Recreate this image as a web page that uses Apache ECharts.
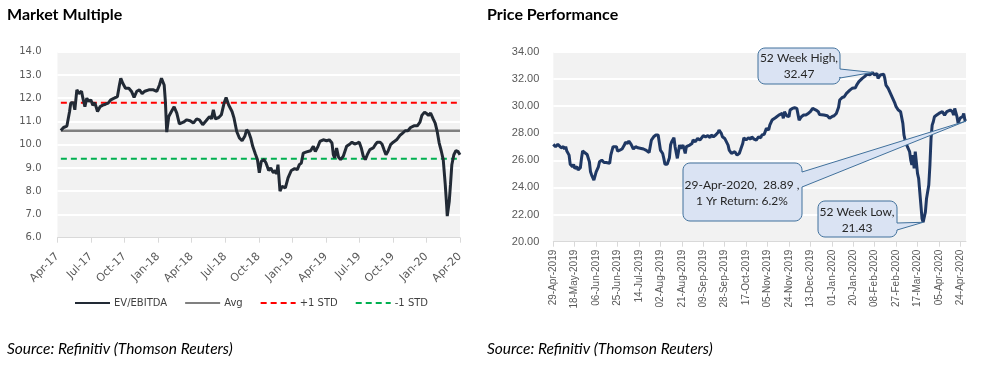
<!DOCTYPE html>
<html><head><meta charset="utf-8">
<script src="https://cdn.jsdelivr.net/npm/echarts@6/dist/echarts.min.js"></script>
<style>html,body{margin:0;padding:0;background:#fff}#c{width:1002px;height:368px}</style>
</head><body><div id="c"></div>
<script>
// ---------- Market Multiple (EV/EBITDA) ----------
// x = months since Apr-2017
const multipleTickLabels = ['Apr-17','Jul-17','Oct-17','Jan-18','Apr-18','Jul-18','Oct-18','Jan-19','Apr-19','Jul-19','Oct-19','Jan-20','Apr-20'];
const evEbitda = [[0.30,10.61],[0.54,10.74],[0.84,10.80],[1.08,11.43],[1.19,11.80],[1.43,11.80],[1.55,11.50],[1.73,12.36],[1.91,12.20],[2.15,12.30],[2.27,12.00],[2.45,11.64],[2.62,12.00],[2.80,11.86],[2.98,11.93],[3.16,11.70],[3.34,11.80],[3.58,11.43],[3.82,11.64],[4.05,11.70],[4.29,11.74],[4.53,11.79],[4.77,11.93],[5.07,12.00],[5.36,12.07],[5.54,12.57],[5.66,12.86],[5.84,12.64],[6.08,12.43],[6.38,12.43],[6.62,12.29],[6.85,12.03],[7.09,12.30],[7.33,12.36],[7.57,12.20],[7.81,12.30],[8.17,12.36],[8.58,12.36],[8.88,12.29],[9.12,12.57],[9.30,12.86],[9.54,12.57],[9.65,11.86],[9.77,10.54],[9.95,11.21],[10.19,11.43],[10.43,11.63],[10.67,11.36],[10.90,10.90],[11.26,10.97],[11.56,11.07],[11.86,11.03],[12.15,10.93],[12.45,11.11],[12.69,11.07],[12.99,10.86],[13.29,11.03],[13.59,11.21],[13.77,11.11],[13.94,11.50],[14.12,11.11],[14.42,11.17],[14.66,11.29],[14.90,11.79],[15.08,12.03],[15.31,11.71],[15.61,11.43],[15.79,11.14],[16.03,10.57],[16.27,10.29],[16.51,10.17],[16.75,10.36],[16.92,10.64],[17.10,10.54],[17.28,10.29],[17.46,9.93],[17.70,9.60],[17.88,9.36],[18.05,8.79],[18.23,9.29],[18.47,9.36],[18.65,9.21],[18.89,8.89],[19.07,9.00],[19.31,8.79],[19.48,8.89],[19.60,8.74],[19.72,9.14],[19.90,8.00],[20.08,8.21],[20.38,8.14],[20.62,8.57],[20.91,8.89],[21.21,8.97],[21.45,8.93],[21.63,9.14],[21.81,9.21],[21.98,9.64],[22.28,9.69],[22.64,9.74],[22.88,9.93],[23.06,9.71],[23.30,9.93],[23.47,10.14],[23.77,10.21],[24.07,10.17],[24.31,10.21],[24.55,10.07],[24.67,9.57],[24.79,9.43],[24.96,9.86],[25.14,9.46],[25.32,9.36],[25.56,9.50],[25.86,9.93],[26.16,10.03],[26.34,10.11],[26.58,10.03],[26.81,10.07],[26.99,10.11],[27.17,9.86],[27.35,9.50],[27.53,9.36],[27.71,9.57],[27.94,9.79],[28.24,9.86],[28.42,10.00],[28.60,10.11],[28.84,10.11],[29.02,10.03],[29.20,9.79],[29.38,9.57],[29.55,9.71],[29.79,10.00],[30.03,10.11],[30.33,10.21],[30.63,10.40],[30.87,10.50],[31.10,10.60],[31.34,10.60],[31.58,10.74],[31.88,10.81],[32.18,10.81],[32.42,10.97],[32.59,11.26],[32.83,11.40],[33.01,11.34],[33.19,11.26],[33.37,11.36],[33.60,11.11],[33.78,10.93],[33.96,10.57],[34.14,10.07],[34.32,9.74],[34.50,9.36],[34.68,8.29],[34.80,7.43],[34.86,6.93],[35.04,7.57],[35.15,8.29],[35.27,9.14],[35.45,9.57],[35.63,9.74],[35.81,9.71],[35.92,9.64],[36.00,9.57]];
const avgValue = 10.6;
const plusStd = 11.8;
const minusStd = 9.4;
const refLineSpan = [0.30, 36.00];

// ---------- Price Performance ----------
// x = calendar days since 29-Apr-2019
const priceStart = '2019-04-29';
const priceDays = 367;
const price = [[0,27.17],[2,27.00],[4,27.17],[5,27.07],[7,26.92],[9,27.00],[10,26.83],[11,27.00],[12,26.68],[14,26.38],[15,25.70],[17,25.52],[18,25.70],[19,25.40],[21,25.52],[22,25.28],[24,25.45],[25,26.14],[26,26.68],[27,26.63],[30,26.43],[31,26.38],[32,25.89],[33,25.15],[34,24.91],[36,24.54],[37,24.66],[38,25.15],[40,25.52],[41,25.89],[43,26.01],[45,25.84],[47,25.84],[50,25.77],[51,26.38],[53,27.00],[54,27.00],[56,27.00],[57,26.68],[59,26.75],[61,26.83],[63,27.12],[64,27.32],[66,27.24],[67,27.42],[69,27.17],[71,26.83],[73,27.00],[75,26.92],[76,26.87],[78,26.87],[80,26.83],[82,26.75],[83,26.83],[85,26.58],[87,27.49],[89,27.73],[91,27.86],[93,27.86],[94,27.81],[95,26.75],[97,26.50],[98,26.14],[99,25.70],[101,25.70],[102,25.84],[103,26.19],[104,27.12],[105,27.37],[107,27.66],[108,27.00],[110,26.14],[111,26.63],[112,27.12],[113,26.87],[115,27.12],[117,26.50],[118,27.00],[119,26.87],[121,27.12],[123,27.24],[124,27.49],[126,27.37],[128,27.61],[130,27.49],[131,27.56],[133,27.81],[135,27.73],[137,27.81],[139,27.66],[140,27.86],[142,27.73],[144,27.86],[146,28.05],[147,28.23],[149,27.98],[150,27.73],[152,27.61],[153,27.49],[155,27.12],[156,26.75],[158,26.51],[159,26.38],[161,26.63],[163,26.38],[165,26.51],[166,26.75],[168,27.24],[169,27.66],[171,27.49],[173,27.66],[175,27.56],[176,27.73],[178,27.56],[180,27.49],[182,27.73],[184,27.66],[185,27.86],[187,27.91],[188,27.98],[189,28.35],[191,28.23],[192,28.59],[194,28.96],[195,29.09],[197,29.13],[198,29.21],[200,29.33],[201,29.28],[203,29.45],[204,29.09],[205,29.58],[207,29.28],[208,29.33],[209,29.21],[210,29.70],[212,29.82],[214,29.87],[216,29.82],[217,29.77],[218,28.96],[219,28.84],[220,29.21],[222,29.33],[224,29.33],[226,29.45],[228,29.58],[230,29.82],[231,29.87],[233,29.70],[235,29.58],[236,29.38],[240,29.33],[243,29.28],[245,29.09],[246,28.96],[247,29.21],[249,29.28],[251,29.45],[253,29.90],[254,30.44],[255,30.32],[256,30.61],[258,30.68],[260,30.93],[261,30.86],[263,31.17],[265,31.30],[266,31.42],[268,31.35],[269,31.54],[271,31.79],[272,31.91],[274,32.03],[276,32.16],[278,32.33],[279,32.40],[281,32.30],[283,32.47],[285,32.28],[287,32.40],[288,32.03],[290,32.28],[291,32.40],[293,32.35],[294,32.03],[295,31.54],[297,31.30],[299,30.93],[301,30.56],[303,30.19],[304,29.95],[306,29.70],[308,29.58],[310,28.72],[311,27.86],[312,27.49],[314,27.00],[316,26.63],[317,26.01],[318,25.65],[319,26.38],[320,25.40],[321,26.63],[323,25.03],[324,24.66],[325,23.68],[326,22.70],[327,21.71],[328,21.43],[330,22.20],[331,23.19],[332,23.68],[333,24.17],[334,25.65],[335,27.61],[336,28.59],[337,28.84],[338,29.21],[340,29.33],[342,29.45],[343,29.33],[345,29.58],[347,29.33],[349,29.58],[350,29.45],[352,29.70],[354,29.58],[355,29.33],[356,29.82],[358,29.21],[359,28.72],[360,28.96],[361,29.13],[363,29.21],[364,29.45],[365,28.96],[366,28.89]];
const highPoint = [283, 32.47];
const lowPoint = [328, 21.43];
const lastPoint = [366, 28.89];
const highText = '52 Week High,\n32.47';
const lowText = '52 Week Low,\n21.43';
const returnText = '29-Apr-2020,  28.89 ,\n1 Yr Return: 6.2%';

const MONTHS = ['Jan','Feb','Mar','Apr','May','Jun','Jul','Aug','Sep','Oct','Nov','Dec'];
const priceDates = [];
(function(){
  const d0 = new Date(priceStart + 'T00:00:00Z');
  for (let i = 0; i < priceDays; i++) {
    const d = new Date(d0.getTime() + i * 86400000);
    priceDates.push(String(d.getUTCDate()).padStart(2,'0') + '-' + MONTHS[d.getUTCMonth()] + '-' + d.getUTCFullYear());
  }
})();

const axisFont = 'DejaVu Sans';
const labelColor = '#595959';
const chart = echarts.init(document.getElementById('c'), null, {renderer: 'canvas'});

const titleStyle = {fontFamily: 'Lato', fontWeight: 'bold', fontSize: 16, color: '#000'};
const sourceStyle = {fontFamily: 'Lato', fontStyle: 'italic', fontWeight: 'normal', fontSize: 15.5, color: '#000'};
const option = {
  animation: false,
  backgroundColor: '#ffffff',
  title: [
    {text: 'Market Multiple', left: 7, top: 7, padding: 0, textStyle: titleStyle},
    {text: 'Price Performance', left: 487, top: 7, padding: 0, textStyle: titleStyle},
    {text: 'Source: Refinitiv (Thomson Reuters)', left: 7, top: 341, padding: 0, textStyle: sourceStyle},
    {text: 'Source: Refinitiv (Thomson Reuters)', left: 487, top: 341, padding: 0, textStyle: sourceStyle}
  ],
  legend: {
    left: 74, top: 298, padding: 0, itemWidth: 35, itemHeight: 10, itemGap: 17,
    itemStyle: {opacity: 0},
    textStyle: {fontFamily: axisFont, fontSize: 10, color: '#404040', padding: [0, 0, 0, -1]},
    data: ['EV/EBITDA','Avg','+1 STD','-1 STD']
  },
  grid: [
    {left: 57.5, right: 542, top: 51.7, bottom: 130.3, show: true, backgroundColor: '#F2F2F2', borderWidth: 0, containLabel: false},
    {left: 553.3, right: 36, top: 51.7, bottom: 126.3, show: true, backgroundColor: '#F2F2F2', borderWidth: 0, containLabel: false}
  ],
  xAxis: [
    {gridIndex: 0, type: 'value', min: 0, max: 36, interval: 3,
     axisLine: {show: true, lineStyle: {color: '#D9D9D9', width: 1}},
     axisTick: {show: true, length: 5, lineStyle: {color: '#D9D9D9'}},
     splitLine: {show: false},
     axisLabel: {rotate: 45, margin: 17, fontFamily: axisFont, fontSize: 11, color: labelColor,
       formatter: v => multipleTickLabels[Math.round(v / 3)] || ''}},
    {gridIndex: 1, type: 'category', data: priceDates, boundaryGap: false,
     axisLine: {show: true, lineStyle: {color: '#D9D9D9', width: 1}},
     axisTick: {show: true, interval: 18, length: 5, lineStyle: {color: '#D9D9D9'}},
     splitLine: {show: false},
     axisLabel: {rotate: 90, interval: 18, margin: 8, fontFamily: 'Liberation Sans', fontSize: 10, color: labelColor}}
  ],
  yAxis: [
    {gridIndex: 0, type: 'value', min: 6, max: 14, interval: 1,
     axisLine: {show: false}, axisTick: {show: false},
     splitLine: {show: true, lineStyle: {color: '#FFFFFF', width: 2}},
     axisLabel: {margin: 16, fontFamily: axisFont, fontSize: 10, color: labelColor, formatter: v => v.toFixed(1)}},
    {gridIndex: 1, type: 'value', min: 20, max: 34, interval: 2,
     axisLine: {show: false}, axisTick: {show: false},
     splitLine: {show: true, lineStyle: {color: '#FFFFFF', width: 2}},
     axisLabel: {margin: 14, fontFamily: 'Liberation Sans', fontSize: 11, color: labelColor, formatter: v => v.toFixed(2)}}
  ],
  series: [
    {name: 'EV/EBITDA', type: 'line', xAxisIndex: 0, yAxisIndex: 0, data: evEbitda, symbol: 'none', z: 5,
     color: '#222A35', lineStyle: {color: '#222A35', width: 3}},
    {name: 'Avg', type: 'line', xAxisIndex: 0, yAxisIndex: 0, symbol: 'none', z: 3,
     data: refLineSpan.map(x => [x, avgValue]), color: '#808080', lineStyle: {color: '#808080', width: 2.5}},
    {name: '+1 STD', type: 'line', xAxisIndex: 0, yAxisIndex: 0, symbol: 'none', z: 3,
     data: refLineSpan.map(x => [x, plusStd]), color: '#FF0000', lineStyle: {color: '#FF0000', width: 2, type: [6, 4]}},
    {name: '-1 STD', type: 'line', xAxisIndex: 0, yAxisIndex: 0, symbol: 'none', z: 3,
     data: refLineSpan.map(x => [x, minusStd]), color: '#00B050', lineStyle: {color: '#00B050', width: 2, type: [6, 4]}},
    {name: 'Price', type: 'line', xAxisIndex: 1, yAxisIndex: 1, data: price, symbol: 'none', z: 5,
     color: '#1F3864', lineStyle: {color: '#1F3864', width: 3}}
  ]
};
chart.setOption(option);

function calloutPoints(x0, y0, w, h, r, wy1, wy2, tip) {
  const x1 = x0 + w, y1 = y0 + h, pts = [];
  const arc = (cx, cy, a0, a1) => {
    for (let k = 0; k <= 6; k++) {
      const a = (a0 + (a1 - a0) * k / 6) * Math.PI / 180;
      pts.push([cx + r * Math.cos(a), cy + r * Math.sin(a)]);
    }
  };
  arc(x0 + r, y0 + r, 180, 270);
  arc(x1 - r, y0 + r, 270, 360);
  pts.push([x1, wy1], tip, [x1, wy2]);
  arc(x1 - r, y1 - r, 0, 90);
  arc(x0 + r, y1 - r, 90, 180);
  return pts;
}
function callout(box, wy1, wy2, dataPt, text, tx, ty) {
  const tip = chart.convertToPixel({xAxisIndex: 1, yAxisIndex: 1}, dataPt);
  return [
    {type: 'polygon', z: 100, shape: {points: calloutPoints(box[0], box[1], box[2], box[3], 7, wy1, wy2, tip)},
     style: {fill: '#DAE3F3', stroke: '#41719C', lineWidth: 1}},
    {type: 'text', z: 101, x: tx, y: ty,
     style: {text: text, fill: '#262626', font: '12px Lato', textAlign: 'center', textVerticalAlign: 'middle', lineHeight: 16}}
  ];
}
const g = [].concat(
  callout([758, 48, 82, 36], 69, 78, highPoint, highText, 799, 66),
  callout([683, 163, 119, 58], 172, 187, lastPoint, returnText, 742, 193),
  callout([818, 201, 79, 36], 223, 230, lowPoint, lowText, 857, 220)
);
chart.setOption({graphic: g});
</script></body></html>
